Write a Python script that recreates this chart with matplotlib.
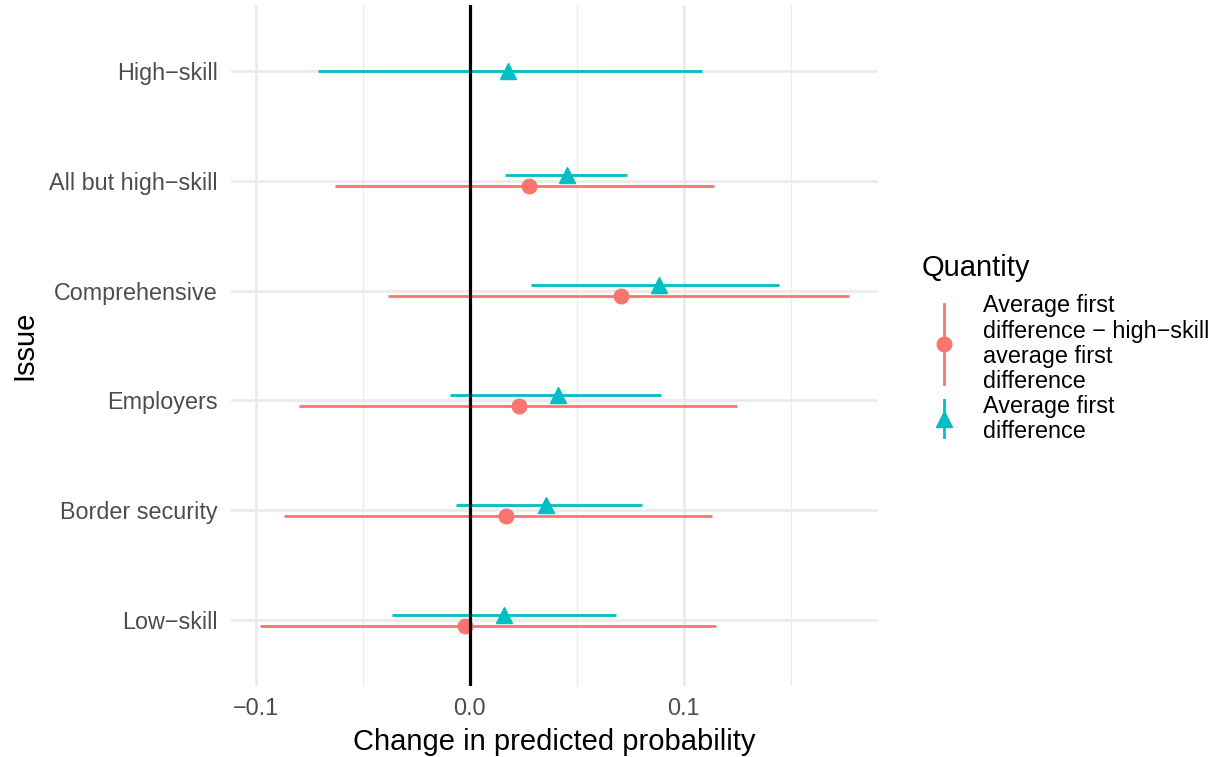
import matplotlib.pyplot as plt
from matplotlib.lines import Line2D
from matplotlib.legend_handler import HandlerBase
import numpy as np

plt.rcParams['font.family'] = ['Liberation Sans', 'DejaVu Sans']

issues = ["High−skill", "All but high−skill", "Comprehensive",
          "Employers", "Border security", "Low−skill"]

# Average first difference (all issues)
afd_est = [0.0181, 0.0456, 0.0886, 0.0411, 0.0354, 0.0161]
afd_lo = [-0.0709, 0.0167, 0.0285, -0.0092, -0.0063, -0.0363]
afd_hi = [0.1086, 0.0733, 0.1444, 0.0894, 0.0806, 0.0684]

# Average first difference minus high-skill average first difference
diff_issues = ["All but high−skill", "Comprehensive", "Employers",
               "Border security", "Low−skill"]
diff_est = [0.0275, 0.0705, 0.0230, 0.0171, -0.0020]
diff_lo = [-0.0631, -0.0383, -0.0796, -0.0870, -0.0978]
diff_hi = [0.1143, 0.1770, 0.1248, 0.1132, 0.1149]

labels = ["Average first\ndifference − high−skill\naverage first\ndifference",
          "Average first\ndifference"]

RED = "#F8766D"
TEAL = "#00BFC4"
GRID = "#EBEBEB"


class PointRangeKey(HandlerBase):
    def __init__(self, n_lines):
        super().__init__()
        self.n_lines = n_lines

    def create_artists(self, legend, orig_handle, xdescent, ydescent,
                       width, height, fontsize, trans):
        cx = width / 2 - xdescent
        cy = height / 2 - ydescent
        half = (21.5 * self.n_lines - 6) / 2 * 0.72
        seg = Line2D([cx, cx], [cy - half, cy + half],
                     color=orig_handle.get_color(), lw=2.0)
        pt = Line2D([cx], [cy], marker=orig_handle.get_marker(),
                    ms=orig_handle.get_markersize(), color=orig_handle.get_color(),
                    linestyle="none")
        seg.set_transform(trans)
        pt.set_transform(trans)
        return [seg, pt]


fig = plt.figure(figsize=(12.23, 7.57), dpi=100)
ax = fig.add_axes([0.1889, 0.0938, 0.529, 0.8996])

ypos = {name: len(issues) - 1 - i for i, name in enumerate(issues)}
dodge = 0.05

# teal: average first difference
ya = np.array([ypos[n] + (dodge if n in diff_issues else 0.0) for n in issues])
ea = np.array(afd_est)
ax.errorbar(ea, ya, xerr=[ea - np.array(afd_lo), np.array(afd_hi) - ea],
            fmt="^", color=TEAL, ms=12, elinewidth=2.0, capsize=0, zorder=3)

# red: difference from high-skill
yd = np.array([ypos[n] - dodge for n in diff_issues])
ed = np.array(diff_est)
ax.errorbar(ed, yd, xerr=[ed - np.array(diff_lo), np.array(diff_hi) - ed],
            fmt="o", color=RED, ms=10.5, elinewidth=2.0, capsize=0, zorder=3)

ax.axvline(0, color="black", lw=2.3, zorder=4)

lo = min(min(afd_lo), min(diff_lo), 0)
hi = max(max(afd_hi), max(diff_hi), 0)
pad = 0.05 * (hi - lo)
ax.set_xlim(lo - pad, hi + pad)
ax.set_ylim(-0.6, len(issues) - 0.4)

ax.set_xticks([-0.1, 0.0, 0.1])
ax.set_xticklabels(["−0.1", "0.0", "0.1"])
ax.set_xticks([-0.05, 0.05, 0.15], minor=True)
ax.set_yticks([ypos[n] for n in issues])
ax.set_yticklabels(issues)

ax.grid(True, which="major", color=GRID, lw=2.0)
ax.grid(True, which="minor", axis="x", color=GRID, lw=1.0)
ax.set_axisbelow(True)
for s in ax.spines.values():
    s.set_visible(False)
ax.tick_params(which="both", length=0)
ax.tick_params(axis="x", pad=8, labelsize=16.8, labelcolor="#4D4D4D")
ax.tick_params(axis="y", pad=9.4, labelsize=16.8, labelcolor="#4D4D4D")

ax.set_xlabel("Change in predicted probability", fontsize=21, labelpad=6)
ax.set_ylabel("Issue", fontsize=21, labelpad=8)

h_red = Line2D([], [], marker="o", ms=10.5, color=RED)
h_teal = Line2D([], [], marker="^", ms=12, color=TEAL)
leg = fig.legend([h_red, h_teal], labels, title="Quantity",
                 handler_map={h_red: PointRangeKey(4), h_teal: PointRangeKey(2)},
                 loc="upper left", bbox_to_anchor=(0.736, 0.692),
                 frameon=False, fontsize=16.8, title_fontsize=21,
                 handlelength=1.97, handletextpad=0.69, labelspacing=0.05,
                 alignment="left")
for col in leg._legend_handle_box.get_children():
    for item in col.get_children():
        item.align = "center"
leg._legend_box.sep = 8.8
for t in leg.get_texts():
    t.set_linespacing(1.13)

fig.savefig("out.png", dpi=100)
